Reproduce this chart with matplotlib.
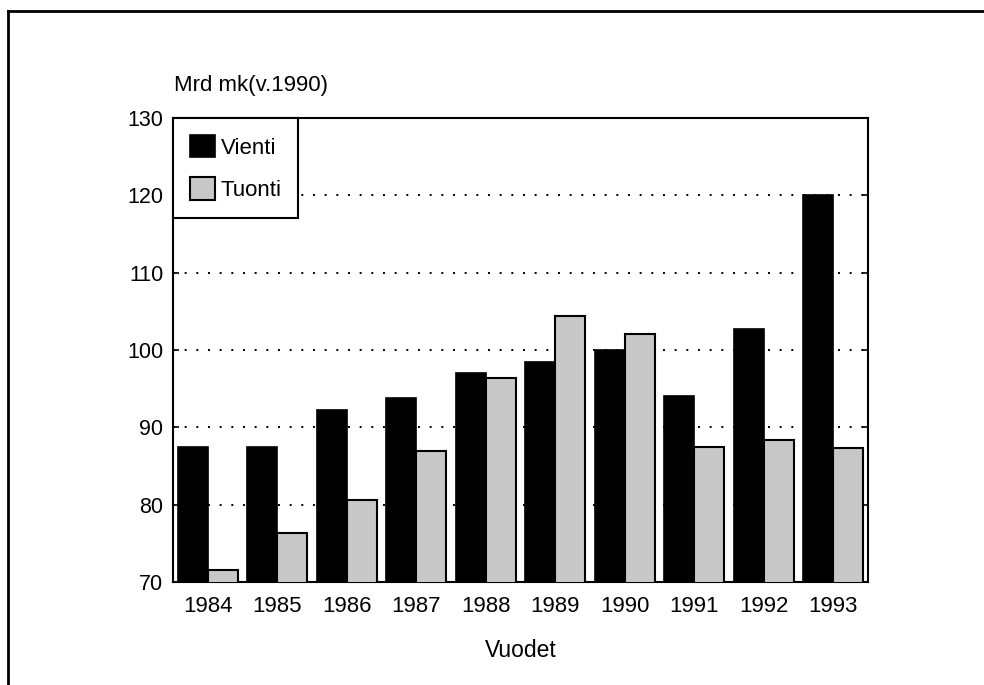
import numpy as np
import matplotlib
matplotlib.use("Agg")
import matplotlib.pyplot as plt
from matplotlib.lines import Line2D

plt.rcParams['font.family'] = ['Liberation Sans', 'DejaVu Sans']

years = ["1984", "1985", "1986", "1987", "1988", "1989", "1990", "1991", "1992", "1993"]
vienti = [87.5, 87.5, 92.3, 93.8, 97.0, 98.4, 100.0, 94.1, 102.7, 120.1]
tuonti = [71.6, 76.4, 80.6, 86.9, 96.4, 104.4, 102.1, 87.5, 88.3, 87.3]

fig = plt.figure(figsize=(9.84, 6.85), dpi=100)
ax = fig.add_axes([173/984, 1-582/685, 695/984, 464/685])

x = np.arange(len(years))
w = 0.43
ax.bar(x - w/2, vienti, w, color="black", edgecolor="black", linewidth=1.2, label="Vienti", zorder=3)
ax.bar(x + w/2, tuonti, w, color="#c8c8c8", edgecolor="black", linewidth=1.5, label="Tuonti", zorder=3)

ax.set_ylim(70, 130)
ax.set_xlim(-0.5, 9.5)
ax.set_yticks([70, 80, 90, 100, 110, 120, 130])
ax.set_xticks(x)
ax.set_xticklabels(years)
ax.tick_params(axis="y", direction="in", length=4, right=True, labelsize=15.5, pad=7, width=1.2)
ax.tick_params(axis="x", length=0, labelsize=16, pad=10)
for yv in [80, 90, 100, 110, 120]:
    ax.axhline(yv, color="black", linestyle=(0, (1, 5)), linewidth=1.4, zorder=1)
for s in ax.spines.values():
    s.set_linewidth(1.5)

ax.set_xlabel("Vuodet", fontsize=16.5, labelpad=16)
fig.text(174/984, 1-86/685, "Mrd mk(v.1990)", fontsize=16, ha="left", va="center")

leg = ax.legend(loc="upper left", borderaxespad=0, fancybox=False, framealpha=1,
                edgecolor="black", fontsize=16, handlelength=1.15, handleheight=1.2,
                handletextpad=0.25, labelspacing=0.85, borderpad=0.75)
leg.get_frame().set_linewidth(1.5)
leg.set_zorder(5)

# outer frame
fig.add_artist(Line2D([8/984, 1], [1-11/685, 1-11/685], color="black", linewidth=2, transform=fig.transFigure))
fig.add_artist(Line2D([8/984, 8/984], [0, 1-11/685], color="black", linewidth=2, transform=fig.transFigure))

fig.savefig("out.png", dpi=100)
